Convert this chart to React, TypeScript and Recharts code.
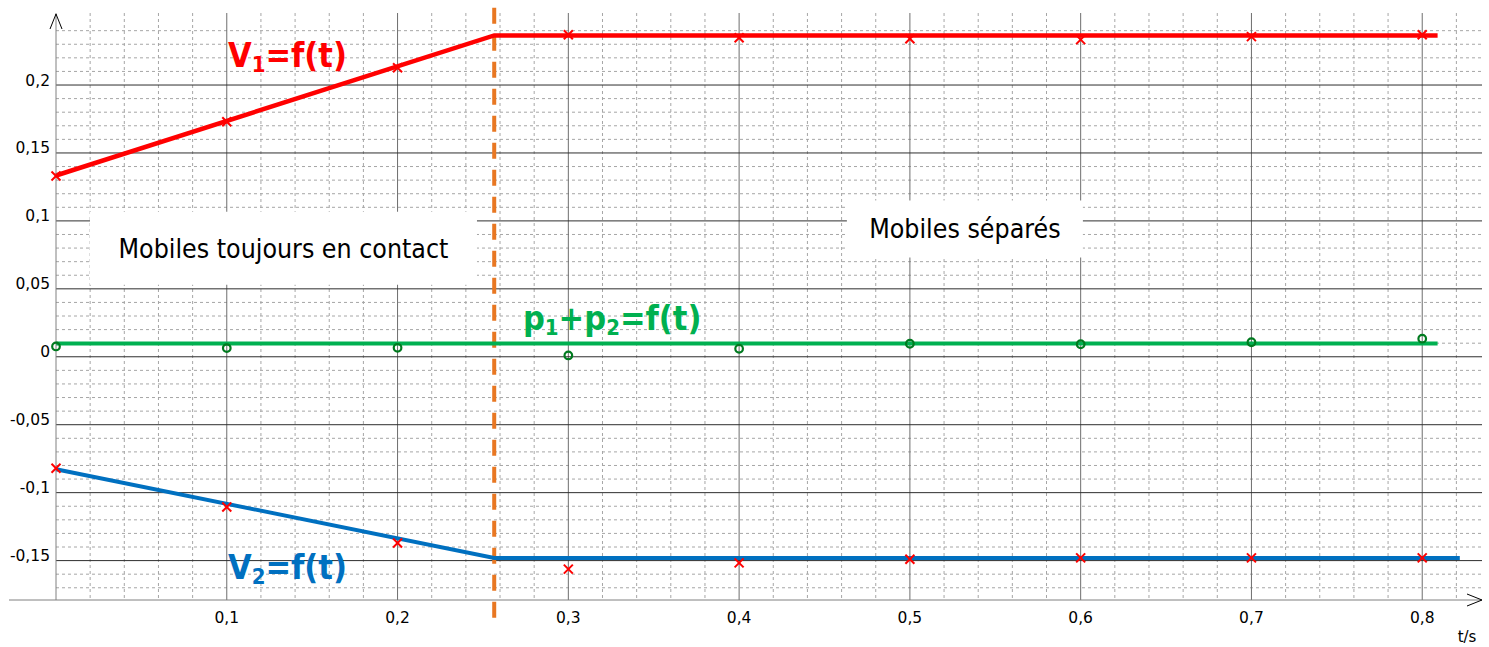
import React from "react";
import {
  ComposedChart,
  Line,
  Scatter,
  XAxis,
  YAxis,
  CartesianGrid,
  ReferenceLine,
  ReferenceArea,
  ReferenceDot,
} from "recharts";

// measured points (t in s)
const tPoints = [0, 0.1, 0.2, 0.3, 0.4, 0.5, 0.6, 0.7, 0.8];
const v1Measured = [0.133, 0.173, 0.2127, 0.237, 0.2348, 0.234, 0.2334, 0.2356, 0.237];
const v2Measured = [-0.082, -0.1106, -0.137, -0.1563, -0.1517, -0.149, -0.148, -0.148, -0.148];
const pMeasured = [0.0076, 0.0064, 0.0066, 0.001, 0.0059, 0.0096, 0.0092, 0.0107, 0.0133];

// fitted model lines
const v1Fit = [
  { t: 0, v: 0.1334 },
  { t: 0.2566, v: 0.2365 },
  { t: 0.809, v: 0.2365 },
];
const v2Fit = [
  { t: 0, v: -0.0828 },
  { t: 0.2566, v: -0.148 },
  { t: 0.822, v: -0.148 },
];
const pFit = [
  { t: 0, v: 0.0098 },
  { t: 0.809, v: 0.0098 },
];

const separationTime = 0.2566;

const xTicks = [0.1, 0.2, 0.3, 0.4, 0.5, 0.6, 0.7, 0.8];
const yTicks = [-0.15, -0.1, -0.05, 0, 0.05, 0.1, 0.15, 0.2];
const xMinorTicks = [
  0.02, 0.04, 0.06, 0.08, 0.12, 0.14, 0.16, 0.18, 0.22, 0.24, 0.26, 0.28,
  0.32, 0.34, 0.36, 0.38, 0.42, 0.44, 0.46, 0.48, 0.52, 0.54, 0.56, 0.58,
  0.62, 0.64, 0.66, 0.68, 0.72, 0.74, 0.76, 0.78, 0.82,
];
const yMinorTicks = [
  -0.17, -0.16, -0.14, -0.13, -0.12, -0.11, -0.09, -0.08, -0.07, -0.06,
  -0.04, -0.03, -0.02, -0.01, 0.01, 0.02, 0.03, 0.04, 0.06, 0.07, 0.08,
  0.09, 0.11, 0.12, 0.13, 0.14, 0.16, 0.17, 0.18, 0.19, 0.21, 0.22, 0.23,
  0.24,
];

const X_DOMAIN: [number, number] = [0, 0.835];
const Y_DOMAIN: [number, number] = [-0.179, 0.253];

const toPoints = (vals: number[]) => tPoints.map((t, i) => ({ t, v: vals[i] }));

const fmt = (n: number) => String(Math.round(n * 1000) / 1000).replace(".", ",");

const TICK_FONT = "'DejaVu Sans', Verdana, sans-serif";
const LABEL_FONT = "'DejaVu Sans Condensed', 'DejaVu Sans', sans-serif";

const XTick = ({ x, y, payload }: any) => (
  <text x={x} y={y} dy="0.71em" textAnchor="middle" fontSize={15.5} fontFamily={TICK_FONT} fill="#000">
    {fmt(payload.value)}
  </text>
);

const YTick = ({ x, y, payload }: any) => (
  <text x={x} y={y - 5} dy="0.355em" textAnchor="end" fontSize={15.5} fontFamily={TICK_FONT} fill="#000">
    {fmt(payload.value)}
  </text>
);

const CrossMark = ({ cx, cy }: any) => (
  <g stroke="#ff0000" strokeWidth={2}>
    <line x1={cx - 4.5} y1={cy - 4.5} x2={cx + 4.5} y2={cy + 4.5} />
    <line x1={cx - 4.5} y1={cy + 4.5} x2={cx + 4.5} y2={cy - 4.5} />
  </g>
);

const CircleMark = ({ cx, cy }: any) => (
  <circle cx={cx} cy={cy} r={3.8} fill="none" stroke="#007a1f" strokeWidth={2.2} />
);

const seriesLabel =
  (main: string, parts: { sub: string; after: string }[], color: string) =>
  ({ viewBox }: any) => (
    <text
      x={viewBox.x}
      y={viewBox.y}
      fill={color}
      fontSize={34}
      fontWeight="bold"
      fontFamily={LABEL_FONT}
      fontStretch="condensed"
    >
      {main}
      {parts.map((p, i) => (
        <React.Fragment key={i}>
          <tspan fontSize={22} dy={5}>
            {p.sub}
          </tspan>
          <tspan dy={-5}>{p.after}</tspan>
        </React.Fragment>
      ))}
    </text>
  );

const boxLabel = (text: string) => ({
  value: text,
  position: "center" as const,
  fontSize: 26.5,
  fontFamily: LABEL_FONT,
  fill: "#000",
});

export default function App() {
  return (
    <div style={{ position: "relative", width: 1489, height: 647 }}>
      <style>{"body{margin:0}"}</style>
      <ComposedChart
        width={1489}
        height={647}
        margin={{ top: 13, right: 7, bottom: 0, left: 0 }}
      >
        <XAxis
          xAxisId="main"
          type="number"
          dataKey="t"
          domain={X_DOMAIN}
          ticks={xTicks}
          height={47}
          axisLine={{ stroke: "#808080" }}
          tickLine={false}
          tickSize={0}
          tickMargin={12}
          tick={<XTick />}
          interval={0}
        />
        <YAxis
          yAxisId="main"
          type="number"
          dataKey="v"
          domain={Y_DOMAIN}
          ticks={yTicks}
          width={56}
          axisLine={{ stroke: "#808080" }}
          tickLine={false}
          tickSize={0}
          tickMargin={6}
          tick={<YTick />}
          interval={0}
        />
        <CartesianGrid
          xAxisId="main"
          yAxisId="main"
          horizontalValues={yMinorTicks}
          verticalValues={xMinorTicks}
          stroke="#a6a6a6"
          strokeDasharray="3 3"
        />
        <CartesianGrid
          xAxisId="main"
          yAxisId="main"
          horizontal={false}
          verticalValues={xTicks}
          stroke="#6e6e6e"
        />
        <CartesianGrid
          xAxisId="main"
          yAxisId="main"
          vertical={false}
          horizontalValues={yTicks}
          stroke="#2e2e2e"
        />

        <ReferenceArea
          xAxisId="main"
          yAxisId="main"
          x1={0.0199}
          x2={0.2465}
          y1={0.053}
          y2={0.1068}
          fill="#ffffff"
          fillOpacity={1}
          stroke="none"
          label={boxLabel("Mobiles toujours en contact")}
        />
        <ReferenceArea
          xAxisId="main"
          yAxisId="main"
          x1={0.4631}
          x2={0.6013}
          y1={0.073}
          y2={0.115}
          fill="#ffffff"
          fillOpacity={1}
          stroke="none"
          label={boxLabel("Mobiles séparés")}
        />

        <ReferenceLine
          xAxisId="main"
          yAxisId="main"
          segment={[
            { x: separationTime, y: 0.2569 },
            { x: separationTime, y: -0.1988 },
          ]}
          ifOverflow="visible"
          stroke="#e87722"
          strokeWidth={4}
          strokeDasharray="16 11"
        />

        <Line
          xAxisId="main"
          yAxisId="main"
          data={v1Fit}
          dataKey="v"
          stroke="#ff0000"
          strokeWidth={4.5}
          dot={false}
          isAnimationActive={false}
        />
        <Line
          xAxisId="main"
          yAxisId="main"
          data={pFit}
          dataKey="v"
          stroke="#00b050"
          strokeWidth={4}
          dot={false}
          isAnimationActive={false}
        />
        <Line
          xAxisId="main"
          yAxisId="main"
          data={v2Fit}
          dataKey="v"
          stroke="#0070c0"
          strokeWidth={4}
          dot={false}
          isAnimationActive={false}
        />

        <Scatter
          xAxisId="main"
          yAxisId="main"
          data={toPoints(v1Measured)}
          dataKey="v"
          shape={<CrossMark />}
          isAnimationActive={false}
        />
        <Scatter
          xAxisId="main"
          yAxisId="main"
          data={toPoints(v2Measured)}
          dataKey="v"
          shape={<CrossMark />}
          isAnimationActive={false}
        />
        <Scatter
          xAxisId="main"
          yAxisId="main"
          data={toPoints(pMeasured)}
          dataKey="v"
          shape={<CircleMark />}
          isAnimationActive={false}
        />

        <ReferenceDot
          xAxisId="main"
          yAxisId="main"
          x={0.1007}
          y={0.2134}
          r={0}
          ifOverflow="visible"
          label={{ content: seriesLabel("V", [{ sub: "1", after: "=f(t)" }], "#ff0000") }}
        />
        <ReferenceDot
          xAxisId="main"
          yAxisId="main"
          x={0.1007}
          y={-0.1635}
          r={0}
          ifOverflow="visible"
          label={{ content: seriesLabel("V", [{ sub: "2", after: "=f(t)" }], "#0070c0") }}
        />
        <ReferenceDot
          xAxisId="main"
          yAxisId="main"
          x={0.2734}
          y={0.0197}
          r={0}
          ifOverflow="visible"
          label={{
            content: seriesLabel(
              "p",
              [
                { sub: "1", after: "+p" },
                { sub: "2", after: "=f(t)" },
              ],
              "#00b050"
            ),
          }}
        />
      </ComposedChart>

      <svg
        width={1489}
        height={647}
        style={{ position: "absolute", left: 0, top: 0, pointerEvents: "none" }}
      >
        <line x1={9} y1={600} x2={56} y2={600} stroke="#808080" />
        <polyline points="50,29 56,14 62,29" fill="none" stroke="#000" strokeWidth={1} />
        <polyline points="1467,594 1482,600 1467,606" fill="none" stroke="#000" strokeWidth={1} />
        <text x={1467} y={642} textAnchor="middle" fontSize={15} fontFamily={TICK_FONT} fill="#000">
          t/s
        </text>
      </svg>
    </div>
  );
}
